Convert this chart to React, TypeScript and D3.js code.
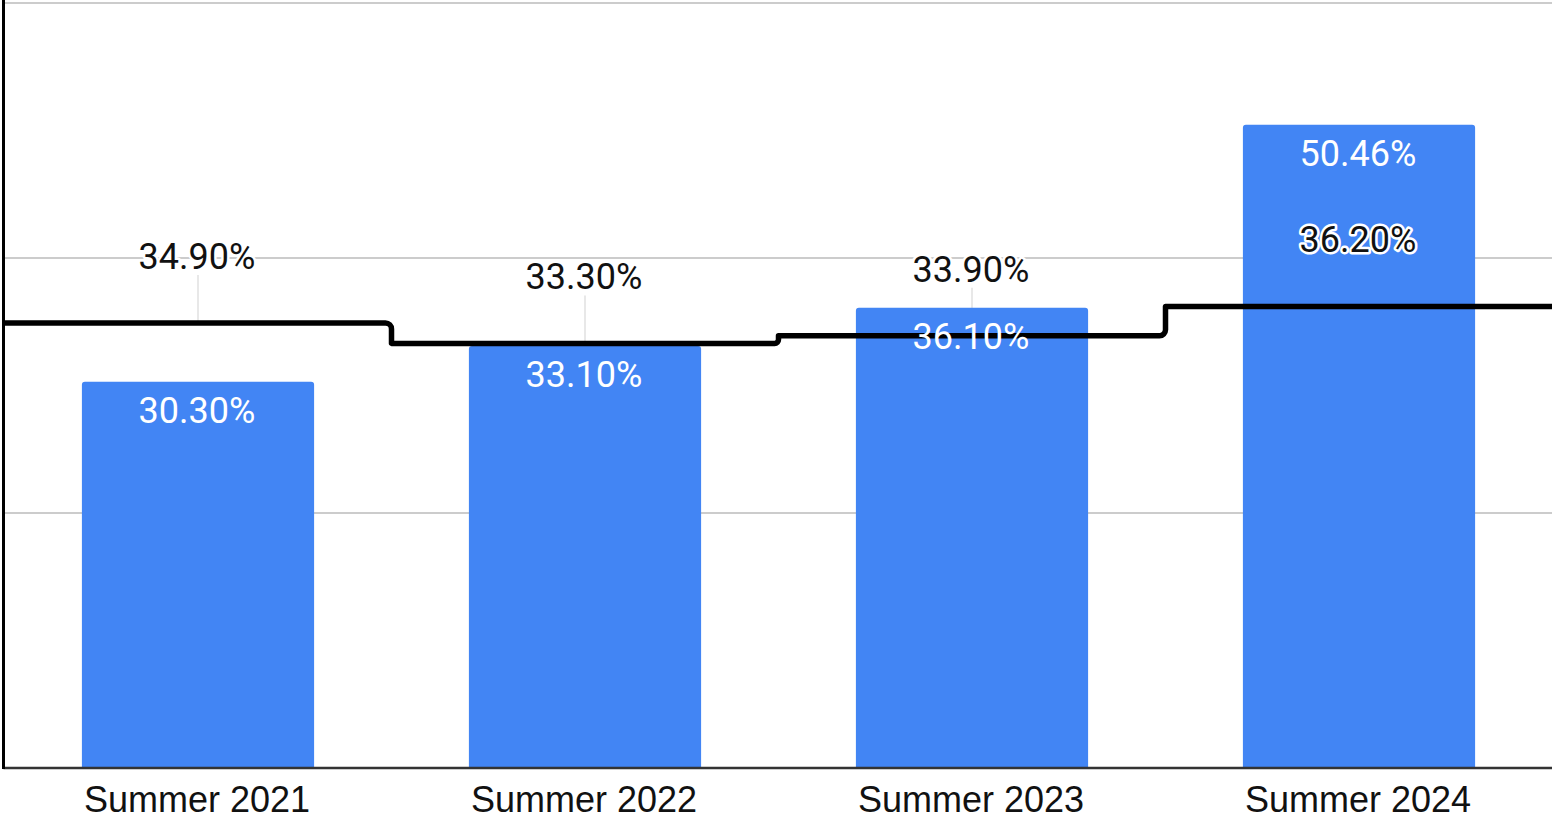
import React from 'react';
import * as d3 from 'd3';

const categories = ['Summer 2021', 'Summer 2022', 'Summer 2023', 'Summer 2024'];
const barValues = [30.3, 33.1, 36.1, 50.46];
const barLabels = ['30.30%', '33.10%', '36.10%', '50.46%'];
const lineValues = [34.9, 33.3, 33.9, 36.2];
const lineLabels = ['34.90%', '33.30%', '33.90%', '36.20%'];
const gridTicks = [0, 20, 40, 60];

const width = 1554;
const height = 820;
const left = 3.5;
const right = 1552;
const top = 3;
const bottom = 768;

const roundTopBar = (x: number, y: number, w: number, h: number, r: number) => {
    const p = d3.path();
    p.moveTo(x, y + h);
    p.lineTo(x, y + r);
    p.arcTo(x, y, x + r, y, r);
    p.lineTo(x + w - r, y);
    p.arcTo(x + w, y, x + w, y + r, r);
    p.lineTo(x + w, y + h);
    p.closePath();
    return p.toString();
};

const App = () => {
    const x = d3.scaleBand<string>()
        .domain(categories)
        .range([4.5, 1552.5])
        .paddingInner(0.4)
        .paddingOuter(0.2);

    const y = d3.scaleLinear().domain([0, 60]).range([bottom, top]);

    const step = x.step();
    const gap = step - x.bandwidth();

    // stepped line with rounded corners
    const pts: [number, number][] = [];
    categories.forEach((c, i) => {
        const x0 = i === 0 ? left : (x(c) as number) - gap / 2;
        const x1 = i === categories.length - 1 ? right : (x(c) as number) + x.bandwidth() + gap / 2;
        pts.push([x0, y(lineValues[i])]);
        pts.push([x1, y(lineValues[i])]);
    });
    const stepPath = d3.path();
    stepPath.moveTo(pts[0][0], pts[0][1]);
    for (let i = 1; i < pts.length - 1; i++) {
        const r = Math.min(6, Math.abs(pts[i + 1][1] - pts[i][1]) / 2 || 0.01);
        stepPath.arcTo(pts[i][0], pts[i][1], pts[i + 1][0], pts[i + 1][1], r);
    }
    stepPath.lineTo(pts[pts.length - 1][0], pts[pts.length - 1][1]);

    const labelFont = 'Roboto, Arial, sans-serif';

    return (
        <svg width={width} height={height} style={{ position: 'absolute', left: 0, top: 0, background: '#fff' }}>
            <rect width={width} height={height} fill="#fff" />
            {gridTicks.filter(t => t > 0).map(t => (
                <line key={t} x1={left} x2={right} y1={y(t)} y2={y(t)} stroke="#cccccc" strokeWidth={2} />
            ))}
            {categories.map((c, i) => {
                const cx = (x(c) as number) + x.bandwidth() / 2;
                const ly = y(lineValues[i]);
                return <line key={c} x1={cx} x2={cx} y1={ly - 48} y2={ly} stroke="#e0e0e0" strokeWidth={1.5} />;
            })}
            {categories.map((c, i) => (
                <path
                    key={c}
                    d={roundTopBar(x(c) as number, y(barValues[i]), x.bandwidth(), bottom - y(barValues[i]), 3)}
                    fill="#4285f4"
                />
            ))}
            <line x1={left} x2={right} y1={bottom} y2={bottom} stroke="#333333" strokeWidth={2.5} />
            <line x1={left} x2={left} y1={0} y2={bottom + 1} stroke="#000" strokeWidth={3} />
            <path d={stepPath.toString()} fill="none" stroke="#000" strokeWidth={5.5} strokeLinejoin="round" />
            {categories.map((c, i) => (
                <text
                    key={c}
                    x={(x(c) as number) + x.bandwidth() / 2 - 1}
                    y={y(lineValues[i]) - 54}
                    textAnchor="middle"
                    fontFamily={labelFont}
                    fontSize={36}
                    fill="#111"
                    stroke="#fff"
                    strokeWidth={5}
                    strokeLinejoin="round"
                    paintOrder="stroke"
                >
                    {lineLabels[i]}
                </text>
            ))}
            {categories.map((c, i) => (
                <text
                    key={c}
                    x={(x(c) as number) + x.bandwidth() / 2 - 1}
                    y={y(barValues[i]) + 41}
                    textAnchor="middle"
                    fontFamily={labelFont}
                    fontSize={36}
                    fill="#fff"
                >
                    {barLabels[i]}
                </text>
            ))}
            {categories.map(c => (
                <text
                    key={c}
                    x={(x(c) as number) + x.bandwidth() / 2 - 1}
                    y={812}
                    textAnchor="middle"
                    fontFamily="Arial, 'Liberation Sans', sans-serif"
                    fontSize={36}
                    fill="#111"
                >
                    {c}
                </text>
            ))}
        </svg>
    );
};

export default App;
